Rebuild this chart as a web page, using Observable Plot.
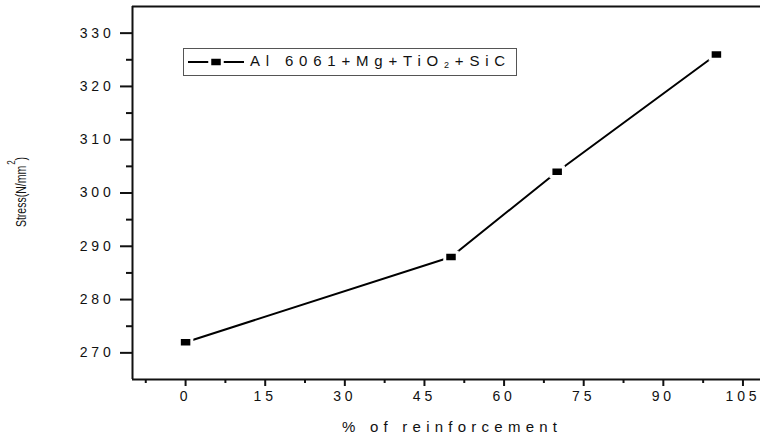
<!DOCTYPE html>
<html><head><meta charset="utf-8">
<script src="https://cdn.jsdelivr.net/npm/d3@7"></script>
<script src="https://cdn.jsdelivr.net/npm/@observablehq/plot@0.6"></script>
<style>
  html,body{margin:0;padding:0;background:#fff}
  #chart svg{font-family:"Liberation Sans",Arial,sans-serif}
</style>
</head><body><div id="chart"></div>
<script>
// ---- data ----
const reinforcement = [0, 50, 70, 100];
const stress = [272, 288, 304, 326];
const xTicks = [0, 15, 30, 45, 60, 75, 90, 105];
const xMinorTicks = [-7.5, 7.5, 22.5, 37.5, 52.5, 67.5, 82.5, 97.5];
const yTicks = [270, 280, 290, 300, 310, 320, 330];
const yMinorTicks = [275, 285, 295, 305, 315, 325];
const xDomain = [-10, 110];
const yDomain = [265, 335];
const seriesMain = "Al 6061+Mg+TiO";
const seriesSub = "2";
const seriesTail = "+SiC";
const xTitle = "% of reinforcement";
const yTitleMain = "Stress(N/mm";
const yTitleSup = "2";
const yTitleEnd = ")";

const data = reinforcement.map((x, i) => ({x, y: stress[i]}));

const rectSymbol = {draw(ctx) { ctx.rect(-6.25, -4.75, 12.5, 9.5); }};

const W = 760, H = 439;
const chart = Plot.plot({
  width: W, height: H,
  marginLeft: 132, marginTop: 6, marginBottom: 60, marginRight: -9,
  style: {background: "#fff", fontFamily: "Liberation Sans, Arial, sans-serif", fontSize: "14px", color: "#111"},
  x: {domain: xDomain, axis: null},
  y: {domain: yDomain, axis: null},
  marks: [
    Plot.axisY({ticks: yMinorTicks, tickSize: 6, tickFormat: () => "", strokeWidth: 2, label: null}),
    Plot.axisY({ticks: yTicks, tickSize: 12, tickPadding: 6, strokeWidth: 2, fontSize: 14, label: null}),
    Plot.axisX({ticks: xMinorTicks, tickSize: 4, tickFormat: () => "", strokeWidth: 2, label: null}),
    Plot.axisX({ticks: xTicks, tickSize: 7, tickPadding: 5, strokeWidth: 2, fontSize: 14, label: null}),
    Plot.ruleX([xDomain[0], xDomain[1]], {stroke: "#111", strokeWidth: 2}),
    Plot.ruleY([yDomain[0], yDomain[1]], {stroke: "#111", strokeWidth: 2}),
    Plot.line(data, {x: "x", y: "y", stroke: "#000", strokeWidth: 2}),
    Plot.dot(data, {x: "x", y: "y", symbol: rectSymbol, fill: "#000", stroke: "#fff", strokeWidth: 3})
  ]
});
document.getElementById("chart").appendChild(chart);

const svg = d3.select(chart);
svg.selectAll('g[aria-label="y-axis tick label"] text').attr("letter-spacing", 3.8);
svg.selectAll('g[aria-label="x-axis tick label"] text').attr("letter-spacing", 3.8);

// y title
const yt = svg.append("text")
  .attr("transform", "translate(26,192) rotate(-90) scale(1,1.35)")
  .attr("text-anchor", "middle")
  .attr("font-size", 10.5)
  .attr("fill", "#111");
yt.append("tspan").text(yTitleMain);
yt.append("tspan").attr("font-size", 8).attr("dy", -8).attr("dx", 1).text(yTitleSup);
yt.append("tspan").attr("dy", 8).text(yTitleEnd);

// x title
svg.append("text")
  .attr("x", 449.5 + 2.6).attr("y", 432)
  .attr("text-anchor", "middle")
  .attr("font-size", 15)
  .attr("letter-spacing", 5.25)
  .attr("fill", "#111")
  .text(xTitle);

// legend
const lg = svg.append("g").attr("aria-label", "legend");
lg.append("rect").attr("x", 183.5).attr("y", 48.5).attr("width", 333).attr("height", 27)
  .attr("fill", "#fff").attr("stroke", "#555").attr("stroke-width", 1);
lg.append("line").attr("x1", 188).attr("x2", 244).attr("y1", 62).attr("y2", 62)
  .attr("stroke", "#000").attr("stroke-width", 2);
lg.append("path").attr("transform", "translate(216,62)")
  .attr("d", d3.symbol(rectSymbol)())
  .attr("fill", "#000").attr("stroke", "#fff").attr("stroke-width", 3);
const lt = lg.append("text").attr("x", 250).attr("y", 65.5)
  .attr("text-anchor", "start")
  .attr("font-size", 15).attr("letter-spacing", 5.8).attr("fill", "#111");
lt.append("tspan").text(seriesMain);
lt.append("tspan").attr("font-size", 9).attr("dy", 2).text(seriesSub);
lt.append("tspan").attr("dy", -2).text(seriesTail);
</script>
</body></html>
